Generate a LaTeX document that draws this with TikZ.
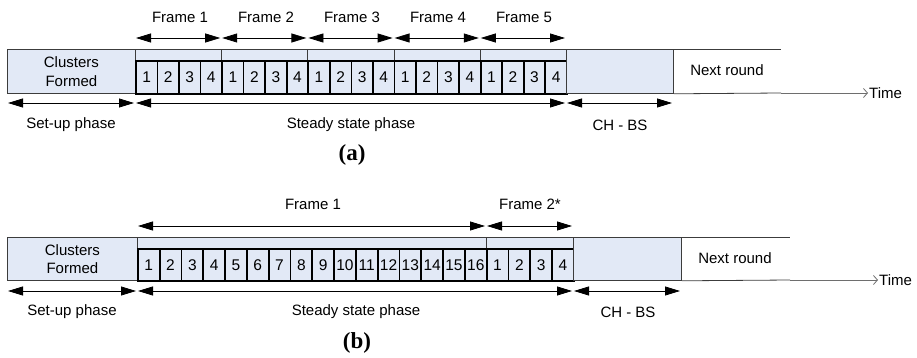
\documentclass[tikz,border=0pt]{standalone}
\usepackage{fontspec}
\setmainfont{Liberation Sans}
\newfontfamily\capfont{Liberation Serif}
\usetikzlibrary{arrows.meta}
\definecolor{slotblue}{RGB}{226,233,246}
\definecolor{edgegray}{RGB}{60,60,60}
\definecolor{axisgray}{RGB}{110,110,110}
\tikzset{
  x=1pt, y=-1pt,
  txt/.style={font=\fontsize{15}{18.5}\selectfont, inner sep=0pt, align=center},
  phasebox/.style={draw=edgegray, line width=0.8pt, fill=slotblue, inner sep=0pt,
    anchor=north west, txt},
  stripbox/.style={draw=edgegray, line width=0.8pt, fill=slotblue, inner sep=0pt,
    anchor=north west},
  slotbox/.style={draw=black, line width=1.7pt, fill=slotblue, inner sep=0pt,
    anchor=north west, font=\fontsize{15.5}{15.5}\selectfont},
  span/.style={{Triangle[length=15pt,width=9pt]}-{Triangle[length=15pt,width=9pt]},
    line width=0.8pt, shorten <=1pt, shorten >=1pt},
  timeaxis/.style={-{Straight Barb[length=4pt,width=9pt]}, draw=axisgray, line width=0.8pt},
  edge/.style={draw=edgegray, line width=0.8pt},
  sublabel/.style={font=\capfont\bfseries\fontsize{23}{23}\selectfont, inner sep=0pt},
}
\begin{document}
\begin{tikzpicture}
\useasboundingbox (0,0) rectangle (917,358);

% ---------- (a): five frames of four slots ----------
\node[phasebox, minimum width=128pt, minimum height=44pt] (clA) at (7,49) {Clusters\\Formed};
\foreach \f in {1,...,5} {
  \pgfmathsetmacro\fx{135+(\f-1)*86.2}
  \node[stripbox, minimum width=86.2pt, minimum height=11pt] (fsA\f) at (\fx,49) {};
  \coordinate (fa\f) at (\fx,38);
}
\coordinate (fa6) at (566,38);
\foreach \i in {1,...,20} {
  \pgfmathsetmacro\sx{135+(\i-1)*21.55}
  \pgfmathtruncatemacro\n{mod(\i-1,4)+1}
  \node[slotbox, minimum width=21.55pt, minimum height=33pt] (sA\i) at (\sx,60) {\n};
}
\node[phasebox, minimum width=107pt, minimum height=44pt] (chA) at (566,49) {};
\coordinate (nrtA) at (781,49);
\coordinate (nrbA) at (781,93);
\coordinate (tA) at (868,93);
\draw[edge] (chA.north east) -- (nrtA);
\draw[edge] (chA.south east) -- (nrbA);
\draw[timeaxis] (nrbA) -- (tA);
\node[txt, anchor=west] (timeA) at (869,93) {Time};
\node[txt] (nextA) at (727,70) {Next round};

\foreach \f [evaluate=\f as \g using int(\f+1)] in {1,...,5}
  \draw[span] (fa\f) -- (fa\g);
\foreach \f/\xc in {1/180,2/266,3/352,4/438,5/524}
  \node[txt] (frA\f) at (\xc,17) {Frame \f};

\coordinate (pa0) at (7,103);
\coordinate (pa1) at (135,103);
\coordinate (pa2) at (566,103);
\coordinate (pa3) at (673,103);
\draw[span] (pa0) -- (pa1);
\draw[span] (pa1) -- (pa2);
\draw[span] (pa2) -- (pa3);
\node[txt] (suA) at (71,125) {Set-up phase};
\node[txt] (ssA) at (351,125) {Steady state phase};
\node[txt] (cbA) at (620,125) {CH - BS};
\node[sublabel] (capA) at (352,155) {(a)};

% ---------- (b): one long frame of sixteen slots, then four ----------
\node[phasebox, minimum width=130pt, minimum height=43pt] (clB) at (7,237) {Clusters\\Formed};
\node[stripbox, minimum width=349pt, minimum height=11pt] (fsB1) at (137,237) {};
\node[stripbox, minimum width=87pt, minimum height=11pt] (fsB2) at (486,237) {};
\foreach \i in {1,...,20} {
  \pgfmathsetmacro\sx{137+(\i-1)*21.8}
  \pgfmathtruncatemacro\n{\i>16 ? \i-16 : \i}
  \node[slotbox, minimum width=21.8pt, minimum height=32pt] (sB\i) at (\sx,248) {\n};
}
\node[phasebox, minimum width=108pt, minimum height=43pt] (chB) at (573,237) {};
\coordinate (nrtB) at (790,237);
\coordinate (nrbB) at (790,280);
\coordinate (tB) at (878,280);
\draw[edge] (chB.north east) -- (nrtB);
\draw[edge] (chB.south east) -- (nrbB);
\draw[timeaxis] (nrbB) -- (tB);
\node[txt, anchor=west] (timeB) at (879,280) {Time};
\node[txt] (nextB) at (735,258) {Next round};

\coordinate (fb1) at (137,226);
\coordinate (fb2) at (486,226);
\coordinate (fb3) at (573,226);
\draw[span] (fb1) -- (fb2);
\draw[span] (fb2) -- (fb3);
\node[txt] (frB1) at (313,204) {Frame 1};
\node[txt] (frB2) at (530,204) {Frame 2*};

\coordinate (pb0) at (7,291);
\coordinate (pb1) at (137,291);
\coordinate (pb2) at (573,291);
\coordinate (pb3) at (681,291);
\draw[span] (pb0) -- (pb1);
\draw[span] (pb1) -- (pb2);
\draw[span] (pb2) -- (pb3);
\node[txt] (suB) at (72,312) {Set-up phase};
\node[txt] (ssB) at (356,312) {Steady state phase};
\node[txt] (cbB) at (628,312) {CH - BS};
\node[sublabel] (capB) at (357,343) {(b)};
\end{tikzpicture}
\end{document}
